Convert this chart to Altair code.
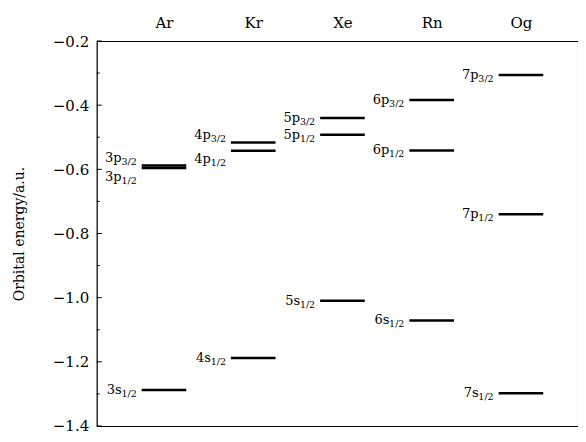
import altair as alt
import pandas as pd

# ---- data ----
elements = ["Ar", "Kr", "Xe", "Rn", "Og"]
level_element = ["Ar", "Ar", "Ar", "Kr", "Kr", "Kr", "Xe", "Xe", "Xe",
                 "Rn", "Rn", "Rn", "Og", "Og", "Og"]
level_shell = ["3p", "3p", "3s", "4p", "4p", "4s", "5p", "5p", "5s",
               "6p", "6p", "6s", "7p", "7p", "7s"]
level_j = ["3/2", "1/2", "1/2", "3/2", "1/2", "1/2", "3/2", "1/2", "1/2",
           "3/2", "1/2", "1/2", "3/2", "1/2", "1/2"]
level_energy = [-0.588, -0.596, -1.288, -0.516, -0.542, -1.188,
                -0.440, -0.492, -1.010, -0.384, -0.541, -1.071,
                -0.306, -0.740, -1.298]
major_ticks = [-1.4, -1.2, -1.0, -0.8, -0.6, -0.4, -0.2]
minor_ticks = [-1.3, -1.1, -0.9, -0.7, -0.5, -0.3]

# label placement for crowded levels (style, not data)
label_place = {("Ar", "3p", "3/2"): "above", ("Ar", "3p", "1/2"): "below",
               ("Kr", "4p", "3/2"): "above", ("Kr", "4p", "1/2"): "below"}
place_dy = {"above": -7.0, "below": 8.5, "at": 0.0}

df = pd.DataFrame({"element": level_element, "shell": level_shell,
                   "j": level_j, "energy": level_energy})
df["x"] = df["element"].map(lambda e: elements.index(e) + 1)
df["x_lo"] = df["x"] - 0.25
df["x_hi"] = df["x"] + 0.25
df["place"] = [label_place.get((e, s, j), "at")
               for e, s, j in zip(df.element, df.shell, df.j)]

major_df = pd.DataFrame({"tick": major_ticks})
minor_df = pd.DataFrame({"tick": minor_ticks})

FONT = "DejaVu Serif"
PAD_L, PAD_T, PAD_B = 88.7, 33, 8
W, H = 481, 385

xscale = alt.Scale(domain=[0.246, 5.636], nice=False, zero=False)
yscale = alt.Scale(domain=[-1.4, -0.2], nice=False, zero=False)

label_expr = " : ".join(
    f"datum.value == {i + 1} ? '{e}'" for i, e in enumerate(elements)) + " : ''"

top_axis = alt.Axis(orient="top", values=list(range(1, len(elements) + 1)),
                    labelExpr=label_expr, ticks=False, grid=False,
                    labelFont=FONT, labelFontSize=15, labelColor="black",
                    labelPadding=11, domainColor="black", domainWidth=1.2,
                    title=None)
bottom_axis = alt.Axis(orient="bottom", labels=False, ticks=False, grid=False,
                       domainColor="black", domainWidth=1.2, title=None)
y_axis = alt.Axis(title="Orbital energy/a.u.", values=major_ticks, format=".1f",
                  ticks=False, grid=False, labelPadding=8, labelFont=FONT,
                  labelFontSize=15, labelColor="black", titleFont=FONT,
                  titleFontSize=14, titleFontWeight="normal", titleColor="black",
                  titlePadding=26, domainColor="black", domainWidth=1.2)

levels = alt.Chart(df).mark_rule(color="black", strokeWidth=2.5).encode(
    x=alt.X("x_lo:Q", scale=xscale, axis=top_axis),
    x2="x_hi:Q",
    y=alt.Y("energy:Q", scale=yscale, axis=y_axis),
)


def label_layers(place, with_bottom_axis=False):
    dy = place_dy[place]
    base = alt.Chart(df).transform_filter(alt.datum.place == place)
    main = base.mark_text(
        align="right", baseline="middle", dx=-20, dy=dy, font=FONT,
        fontSize=13, color="black").encode(
        x=alt.X("x_lo:Q", scale=xscale,
                axis=bottom_axis if with_bottom_axis else None),
        y=alt.Y("energy:Q", scale=yscale, axis=y_axis),
        text="shell:N",
    )
    sub = base.mark_text(
        align="right", baseline="middle", dx=-5, dy=dy + 4, font=FONT,
        fontSize=9.5, color="black").encode(
        x=alt.X("x_lo:Q", scale=xscale, axis=None),
        y=alt.Y("energy:Q", scale=yscale, axis=y_axis),
        text="j:N",
    )
    return [main, sub]


text_layers = (label_layers("at", True) + label_layers("above")
               + label_layers("below"))

major = alt.Chart(major_df).mark_rule(color="black", strokeWidth=1).encode(
    y=alt.Y("tick:Q", scale=yscale, axis=y_axis),
    x=alt.value(0), x2=alt.value(5),
)
minor = alt.Chart(minor_df).mark_rule(color="black", strokeWidth=1).encode(
    y=alt.Y("tick:Q", scale=yscale, axis=y_axis),
    x=alt.value(0), x2=alt.value(3),
)

chart = alt.layer(levels, *text_layers, major, minor).resolve_axis(
    x="independent"
).properties(
    width=W, height=H,
    autosize=alt.AutoSizeParams(type="none"),
    padding={"left": PAD_L, "top": PAD_T, "right": 0, "bottom": PAD_B},
).configure_view(stroke=None).configure(background="white")

chart.save("out.html", embed_options={"renderer": "svg", "actions": False})
